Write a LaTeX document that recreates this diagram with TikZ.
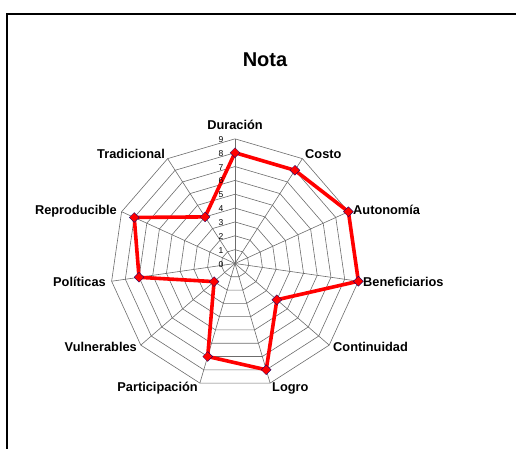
\documentclass[tikz,border=0pt]{standalone}
\usepackage{fontspec}
\setmainfont{Liberation Sans}
\usetikzlibrary{shapes.geometric,backgrounds}
\begin{document}
\begin{tikzpicture}[x=1pt,y=1pt,
  gridline/.style={draw=gray!85!black, line width=0.6pt},
  dataline/.style={draw=red, line width=3.6pt, line join=miter},
  marker/.style={diamond, fill=red, draw=blue!45!black, line width=0.3pt, minimum size=10pt, inner sep=0pt},
  axislabel/.style={font=\bfseries\fontsize{12.8}{14}\selectfont, inner sep=0pt, text height=0.72em, text depth=0pt},
  ticklabel/.style={font=\fontsize{8.5}{9}\selectfont, inner sep=0pt, anchor=east, text height=0.72em, text depth=0pt},
  frame/.style={draw=black, line width=2pt}]
\useasboundingbox (0,0) rectangle (516,449);
\clip (0,0) rectangle (516,449);
\draw[frame] (7,-10) -- (7,435) -- (530,435);
\node[font=\bfseries\fontsize{20}{24}\selectfont, inner sep=0pt, text height=0.72em, text depth=0pt] (title) at (265,386) {Nota};
\begin{scope}[shift={(235,185.5)}]
  \def\R{13.85}
  % data markers
  \foreach \v [count=\i from 0] in {8,8,9,9,4,8,7,2,7,8,4}
    \node[marker] (p\i) at ({90-\i*360/11}:{\v*\R}) {};
  \begin{pgfonlayer}{background}
    \foreach \l in {1,...,9}
      \draw[gridline] (90:{\l*\R}) \foreach \k in {1,...,10} { -- ({90-\k*360/11}:{\l*\R}) } -- cycle;
    \foreach \k in {0,...,10}
      \draw[gridline] (0,0) -- ({90-\k*360/11}:{9*\R});
    \draw[dataline] (p0.center) -- (p1.center) -- (p2.center) -- (p3.center) -- (p4.center) -- (p5.center) -- (p6.center) -- (p7.center) -- (p8.center) -- (p9.center) -- (p10.center) -- cycle;
  \end{pgfonlayer}
  \foreach \l in {0,...,9}
    \node[ticklabel] (t\l) at (-11.5,{\l*\R}) {\l};
\end{scope}
\node[axislabel] (lDur) at (235,323) {Duración};
\node[axislabel, anchor=west] (lCos) at (305,294) {Costo};
\node[axislabel, anchor=west] (lAut) at (353,238) {Autonomía};
\node[axislabel, anchor=west] (lBen) at (363,166.5) {Beneficiarios};
\node[axislabel, anchor=west] (lCon) at (333,101) {Continuidad};
\node[axislabel, anchor=west] (lLog) at (272,61) {Logro};
\node[axislabel, anchor=east] (lPar) at (198,61) {Participación};
\node[axislabel, anchor=east] (lVul) at (137,101) {Vulnerables};
\node[axislabel, anchor=east] (lPol) at (106,166.5) {Políticas};
\node[axislabel, anchor=east] (lRep) at (117,238.5) {Reproducible};
\node[axislabel, anchor=east] (lTra) at (165,294) {Tradicional};
\end{tikzpicture}
\end{document}
